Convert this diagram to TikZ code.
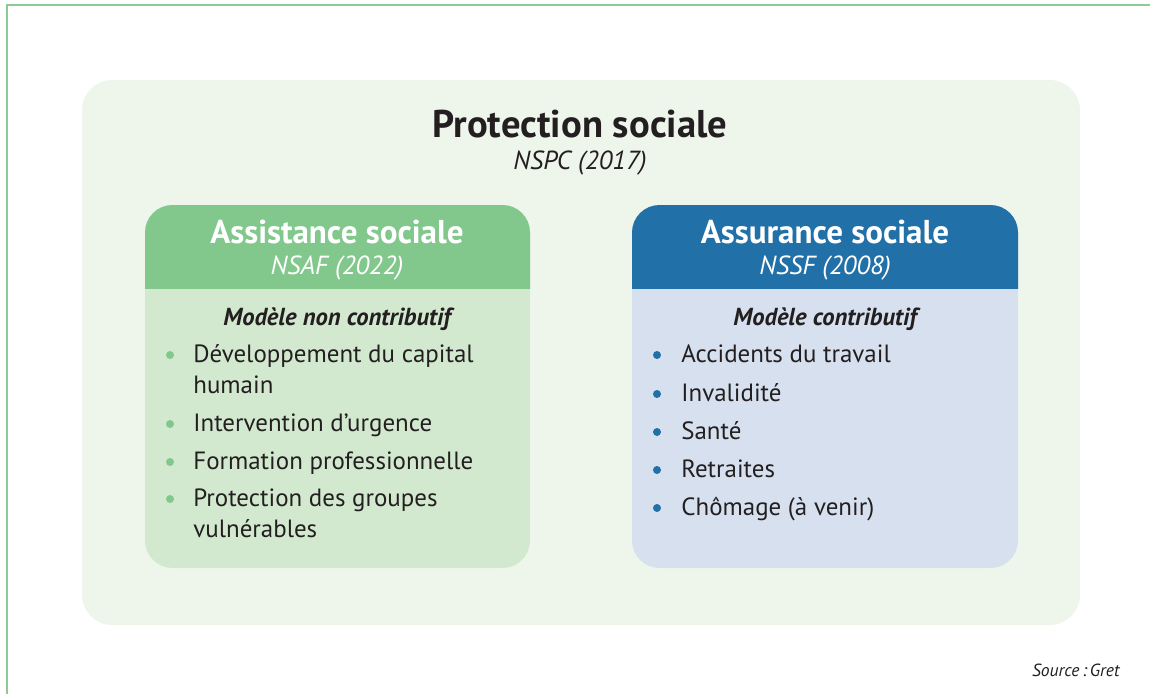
\documentclass[tikz,border=0pt]{standalone}
\usepackage{fontspec}
\setmainfont{PT Sans}
\definecolor{framegreen}{HTML}{8CCB95}
\definecolor{outerfill}{HTML}{EEF6EC}
\definecolor{asshead}{HTML}{82C88D}
\definecolor{assbody}{HTML}{D2E9CF}
\definecolor{insuhead}{HTML}{2270A8}
\definecolor{insubody}{HTML}{D6E0EE}
\definecolor{txt}{HTML}{231F20}

\begin{document}
\begin{tikzpicture}[x=0.02cm,y=-0.02cm]
\tikzstyle{every node}=[inner sep=0pt, text=txt]
\tikzstyle{head}=[font=\fontsize{18.8}{20}\selectfont\bfseries, text=white, anchor=base]
\tikzstyle{sub}=[font=\fontsize{14.9}{17}\selectfont\itshape, anchor=base]
\tikzstyle{model}=[font=\fontsize{14}{16}\selectfont\bfseries\itshape, anchor=base]
\tikzstyle{item}=[font=\fontsize{14.2}{16}\selectfont, anchor=base west]
\useasboundingbox (0,0) rectangle (1150,694);
% frame
\draw[framegreen, line width=1.2pt] (7,694) -- (7,5) -- (1150,5);
% outer box
\fill[outerfill, rounded corners=0.6cm] (82,80) rectangle (1080,625);
\node[font=\fontsize{22}{25}\selectfont\bfseries, anchor=base] (title) at (580,137) {Protection sociale};
\node[sub] (nspc) at (580,169) {NSPC (2017)};
% left box
\fill[assbody, rounded corners=0.55cm] (145,205) rectangle (530,568);
\begin{scope}
\clip (145,205) rectangle (530,288);
\fill[asshead, rounded corners=0.55cm] (145,205) rectangle (530,568);
\end{scope}
\node[head] (ass) at (337,243) {Assistance sociale};
\node[sub, text=white] (nsaf) at (337,274) {NSAF (2022)};
\node[model] (noncontrib) at (337,325) {Modèle non contributif};
\node[item] (a1) at (193,362) {Développement du capital};
\node[item] (a1b) at (193,393) {humain};
\node[item] (a2) at (193,431) {Intervention d’urgence};
\node[item] (a3) at (193,469) {Formation professionnelle};
\node[item] (a4) at (193,506) {Protection des groupes};
\node[item] (a4b) at (193,537) {vulnérables};
\fill[asshead] (170,355) circle (4);
\fill[asshead] (170,424) circle (4);
\fill[asshead] (170,462) circle (4);
\fill[asshead] (170,499) circle (4);
% right box
\fill[insubody, rounded corners=0.55cm] (632,205) rectangle (1018,568);
\begin{scope}
\clip (632,205) rectangle (1018,288);
\fill[insuhead, rounded corners=0.55cm] (632,205) rectangle (1018,568);
\end{scope}
\node[head] (insu) at (825,243) {Assurance sociale};
\node[sub, text=white] (nssf) at (825,274) {NSSF (2008)};
\node[model] (contrib) at (825,325) {Modèle contributif};
\node[item] (b1) at (681,362) {Accidents du travail};
\node[item] (b2) at (681,401) {Invalidité};
\node[item] (b3) at (681,439) {Santé};
\node[item] (b4) at (681,477) {Retraites};
\node[item] (b5) at (681,515) {Chômage (à venir)};
\fill[insuhead] (657,355) circle (4);
\fill[insuhead] (657,394) circle (4);
\fill[insuhead] (657,432) circle (4);
\fill[insuhead] (657,470) circle (4);
\fill[insuhead] (657,508) circle (4);
% source
\node[font=\fontsize{10}{12}\selectfont\itshape, anchor=base east] (src) at (1120,676) {Source\,:\,Gret};
\end{tikzpicture}
\end{document}
